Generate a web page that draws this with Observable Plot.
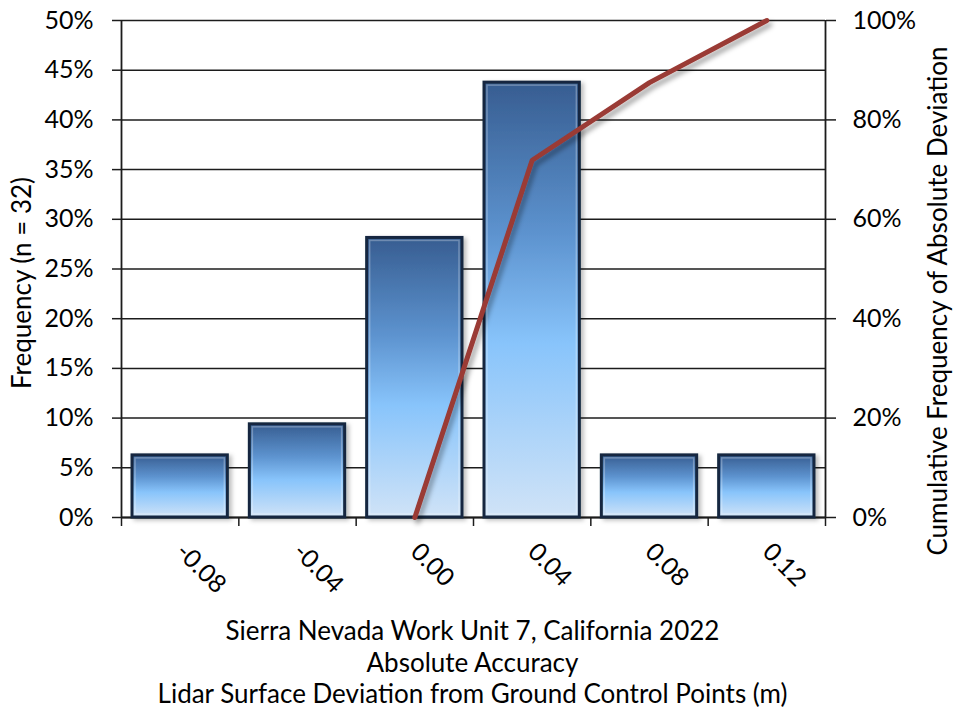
<!DOCTYPE html>
<html>
<head>
<meta charset="utf-8">
<script src="https://cdn.jsdelivr.net/npm/d3@7"></script>
<script src="https://cdn.jsdelivr.net/npm/@observablehq/plot@0.6"></script>
<style>
  body { margin: 0; background: #fff; font-family: Lato, "Open Sans", sans-serif; }
  #chart { width: 953px; }
  .caption { width: 945px; padding-top: 3px; text-align: center; font-size: 26px; line-height: 31.5px; color: #000; }
</style>
</head>
<body>
<div id="chart"></div>
<div class="caption" id="caption"></div>
<script>
// Deviation bins (m), centre value of each bar
const bins = [-0.08, -0.04, 0.00, 0.04, 0.08, 0.12];
// Share of the 32 checkpoints in each bin (%)
const frequency = [6.25, 9.375, 28.125, 43.75, 6.25, 6.25];
// Cumulative frequency of absolute deviation (%)
const cumulativeBins = [0.00, 0.04, 0.08, 0.12];
const cumulative = [0, 71.875, 87.5, 100];
// Axis ticks
const leftTicks = [0, 5, 10, 15, 20, 25, 30, 35, 40, 45, 50];
const rightTicks = [0, 20, 40, 60, 80, 100];
const binHalfWidth = 0.02;
const leftTitle = "Frequency (n = 32)";
const rightTitle = "Cumulative Frequency of Absolute Deviation";
const captionLines = [
  "Sierra Nevada Work Unit 7, California 2022",
  "Absolute Accuracy",
  "Lidar Surface Deviation from Ground Control Points (m)"
];

const bars = bins.map((b, i) => ({bin: b, freq: frequency[i]}));
const cum = cumulativeBins.map((b, i) => ({bin: b, cum: cumulative[i]}));
const edges = bins.map(b => b - binHalfWidth).concat([bins[bins.length - 1] + binHalfWidth]);
const xDomain = [edges[0], edges[edges.length - 1]];
const ink = "#1c1c1c";
const fs = 25;

const chart = Plot.plot({
  width: 953,
  height: 612,
  marginLeft: 121,
  marginRight: 128,
  marginTop: 20,
  marginBottom: 95,
  style: {fontFamily: "Lato, 'Open Sans', sans-serif", fontSize: fs + "px", color: "#000", background: "#fff"},
  x: {domain: xDomain},
  y: {domain: [0, 50]},
  marks: [
    // horizontal gridlines
    Plot.ruleY(leftTicks, {stroke: ink, strokeWidth: 1.5}),
    // left frequency axis
    Plot.axisY({ticks: leftTicks, tickSize: 9, tickPadding: 19, tickFormat: d => d + "%",
      label: null, stroke: ink, strokeWidth: 1.5, strokeOpacity: 1, fontSize: fs}),
    // right cumulative axis (0–100% mapped onto 0–50%)
    Plot.axisY({anchor: "right", ticks: rightTicks.map(d => d / 2), tickSize: 10, tickPadding: 17,
      tickFormat: d => (d * 2) + "%", label: null, stroke: ink, strokeWidth: 1.5, strokeOpacity: 1, fontSize: fs}),
    // axis lines
    Plot.ruleX(xDomain, {stroke: ink, strokeWidth: 1.8}),
    Plot.ruleY([0], {stroke: ink, strokeWidth: 1.8}),
    // tick marks between bins
    Plot.axisX({ticks: edges, tickSize: 9, tickFormat: () => "", label: null,
      stroke: ink, strokeWidth: 1.5, strokeOpacity: 1}),
    // bin labels
    Plot.axisX({ticks: bins, tickSize: 0, tickPadding: 30, tickRotate: 45,
      tickFormat: d => d.toFixed(2), label: null, fontSize: fs}),
    // bars
    Plot.rectY(bars, {x1: d => d.bin - binHalfWidth, x2: d => d.bin + binHalfWidth, y: "freq",
      insetLeft: 11, insetRight: 11, fill: "url(#barGrad)", stroke: "#14283f", strokeWidth: 3}),
    // bevel highlight
    Plot.rectY(bars, {x1: d => d.bin - binHalfWidth, x2: d => d.bin + binHalfWidth, y: "freq",
      insetLeft: 14, insetRight: 14, insetTop: 3, insetBottom: 3, fill: "none",
      stroke: "#ffffff", strokeOpacity: 0.28, strokeWidth: 1.5}),
    // cumulative line
    Plot.line(cum, {x: "bin", y: d => d.cum / 2, stroke: "#9a3a35", strokeWidth: 5, strokeLinejoin: "miter"}),
    // axis titles
    Plot.text([leftTitle], {frameAnchor: "left", textAnchor: "middle", rotate: -90, dx: -99, dy: 14, fontSize: 26, fill: "#000"}),
    Plot.text([rightTitle], {frameAnchor: "right", textAnchor: "middle", rotate: -90, dx: 113, dy: 32, fontSize: 26, fill: "#000"})
  ]
});

// gradient fill and shadow filters
const svg = d3.select(chart);
const defs = svg.insert("defs", ":first-child");
const grad = defs.append("linearGradient").attr("id", "barGrad").attr("x1", 0).attr("y1", 0).attr("x2", 0).attr("y2", 1);
[[0, "#375d91"], [0.35, "#5d93cf"], [0.6, "#88c4fb"], [1, "#d0e3f7"]].forEach(([o, c]) =>
  grad.append("stop").attr("offset", o).attr("stop-color", c));
const f1 = defs.append("filter").attr("id", "lineShadow").attr("x", "-20%").attr("y", "-20%").attr("width", "140%").attr("height", "140%");
f1.append("feDropShadow").attr("dx", 3).attr("dy", 4).attr("stdDeviation", 2.5).attr("flood-color", "#000").attr("flood-opacity", 0.35);
const f2 = defs.append("filter").attr("id", "barShadow").attr("x", "-20%").attr("y", "-20%").attr("width", "140%").attr("height", "140%");
f2.append("feDropShadow").attr("dx", 3).attr("dy", 2).attr("stdDeviation", 2).attr("flood-color", "#000").attr("flood-opacity", 0.25);
svg.selectAll('g[aria-label="line"]').attr("filter", "url(#lineShadow)");
svg.select('g[aria-label="rect"]').attr("filter", "url(#barShadow)");

document.getElementById("chart").appendChild(chart);
const cap = document.getElementById("caption");
captionLines.forEach(t => { const d = document.createElement("div"); d.textContent = t; cap.appendChild(d); });
</script>
</body>
</html>
